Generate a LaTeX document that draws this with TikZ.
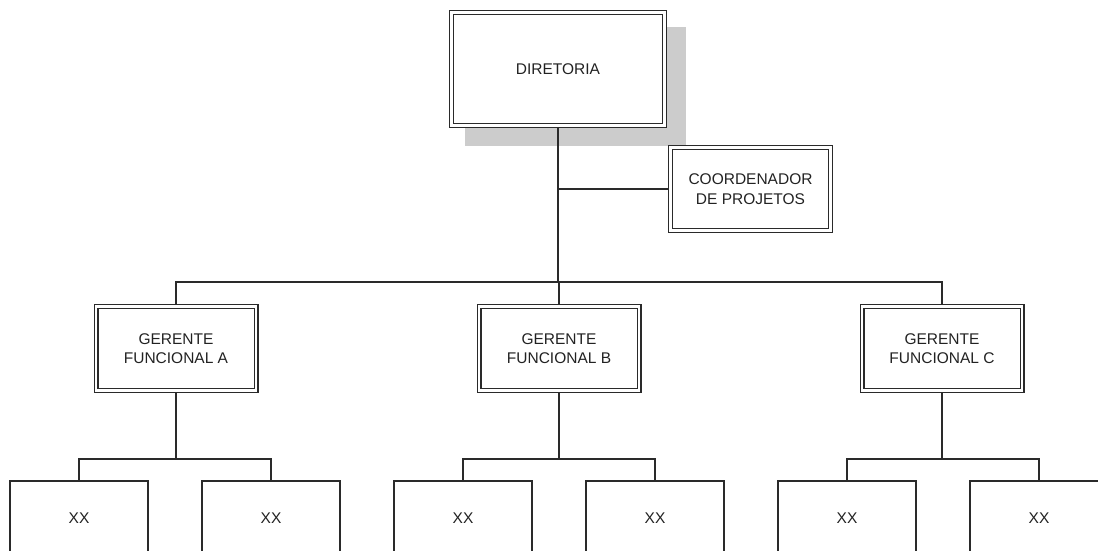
\documentclass[tikz,border=0pt]{standalone}
\usepackage{fontspec}
\setmainfont{Liberation Sans}
\usetikzlibrary{backgrounds}
\definecolor{linecol}{HTML}{2A2A2A}
\definecolor{txtcol}{HTML}{222222}
\definecolor{shadowgray}{HTML}{CCCCCC}
\begin{document}
\begin{tikzpicture}[x=1pt,y=-1pt,
  every node/.style={font=\fontsize{15.5}{19.5}\selectfont, text=txtcol, align=center, inner sep=0pt},
  dbox/.style={draw=linecol, fill=white, double=white, line width=1.3pt, double distance=2.4pt},
  sbox/.style={draw=linecol, fill=white, line width=1.5pt, minimum width=138pt, minimum height=74pt},
  conn/.style={draw=linecol, line width=1.5pt}]
\clip (0,0) rectangle (1098,550);

% top level
\node[dbox, minimum width=213pt, minimum height=113pt] (dir) at (558,69) {DIRETORIA};
\node[dbox, minimum width=160pt, minimum height=83pt] (coord) at (750.5,189) {COORDENADOR\\DE PROJETOS};

% functional managers
\node[dbox, minimum width=160pt, minimum height=84pt] (ga) at (176,348.5) {GERENTE\\FUNCIONAL A};
\node[dbox, minimum width=160pt, minimum height=84pt] (gb) at (559,348.5) {GERENTE\\FUNCIONAL B};
\node[dbox, minimum width=160pt, minimum height=84pt] (gc) at (942,348.5) {GERENTE\\FUNCIONAL C};

% staff boxes
\node[sbox] (a1) at (79,518) {XX};
\node[sbox] (a2) at (271,518) {XX};
\node[sbox] (b1) at (463,518) {XX};
\node[sbox] (b2) at (655,518) {XX};
\node[sbox] (c1) at (847,518) {XX};
\node[sbox] (c2) at (1039,518) {XX};

\coordinate (bus) at (558,282);

\begin{pgfonlayer}{background}
  \fill[white] (0,0) rectangle (1098,550);
  % drop shadow of the board box
  \fill[shadowgray] (465,27) rectangle (686,146);
  % board to managers and coordinator
  \draw[conn] (dir.south) -- (bus);
  \draw[conn] (dir.south |- coord.west) -- (coord.west);
  \draw[conn] (ga.north) -- (ga.north |- bus) -- (gc.north |- bus) -- (gc.north);
  \draw[conn] (bus) -- (bus -| gb.north) -- (gb.north);
  % managers to staff
  \foreach \g/\l/\r in {ga/a1/a2, gb/b1/b2, gc/c1/c2}{
    \coordinate (\g bar) at (\g.south |- 0,459);
    \draw[conn] (\g.south) -- (\g bar);
    \draw[conn] (\l.north) -- (\l.north |- \g bar) -- (\r.north |- \g bar) -- (\r.north);
  }
\end{pgfonlayer}
\end{tikzpicture}
\end{document}
